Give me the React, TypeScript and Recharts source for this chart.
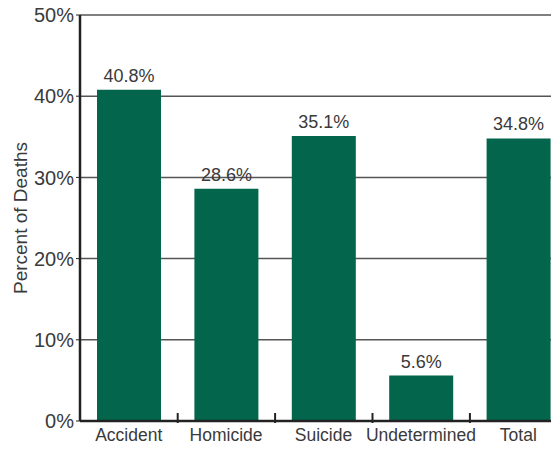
import React from 'react';
import { BarChart, Bar, XAxis, YAxis, CartesianGrid, LabelList, Label } from 'recharts';

const categories = ['Accident', 'Homicide', 'Suicide', 'Undetermined', 'Total'];
const percents = [40.8, 28.6, 35.1, 5.6, 34.8];
const yTicks = [0, 10, 20, 30, 40, 50];

const data = categories.map((name, i) => ({ name, value: percents[i] }));

const FONT = '"Liberation Sans", Arial, sans-serif';
const TEXT = '#3a3a3a';

// category label at center + small upward divider tick at the band edge
const CatTick = (props: any) => {
  const { x, y, payload, index } = props;
  const half = 49;
  return (
    <g>
      <text x={x} y={y + 18} textAnchor="middle" fontSize={17.5} fill={TEXT} fontFamily={FONT}>
        {payload.value}
      </text>
      {index < categories.length - 1 && (
        <line x1={x + half} x2={x + half} y1={y} y2={y - 10} stroke="#222" strokeWidth={2} />
      )}
    </g>
  );
};

export default function App() {
  return (
    <div style={{ margin: -8, width: 559, height: 450, overflow: 'hidden', background: '#fff' }}>
      <BarChart
        width={572}
        height={450}
        data={data}
        margin={{ top: 15, right: 5, left: 0, bottom: 0 }}
        barSize={64}
      >
        <CartesianGrid vertical={false} stroke="#555" strokeWidth={1.5} />
        <XAxis
          dataKey="name"
          height={29}
          axisLine={{ stroke: '#222', strokeWidth: 2.5 }}
          tickLine={false}
          tickSize={0}
          tick={<CatTick />}
          interval={0}
        />
        <YAxis
          domain={[0, 50]}
          ticks={yTicks}
          width={80}
          axisLine={{ stroke: '#222', strokeWidth: 2.5 }}
          tickLine={{ stroke: '#222' }}
          tickSize={4}
          tickFormatter={(v: number) => `${v}%`}
          tick={{ fontSize: 20, fill: TEXT, fontFamily: FONT }}
        >
          <Label
            value="Percent of Deaths"
            angle={-90}
            position="insideLeft"
            offset={20}
            style={{ textAnchor: 'middle', fontSize: 19, fill: TEXT, fontFamily: FONT }}
          />
        </YAxis>
        <Bar dataKey="value" fill="#02654c" isAnimationActive={false}>
          <LabelList
            dataKey="value"
            position="top"
            offset={8}
            formatter={(v: number) => `${v.toFixed(1)}%`}
            style={{ fontSize: 18, fill: TEXT, fontFamily: FONT }}
          />
        </Bar>
      </BarChart>
    </div>
  );
}
